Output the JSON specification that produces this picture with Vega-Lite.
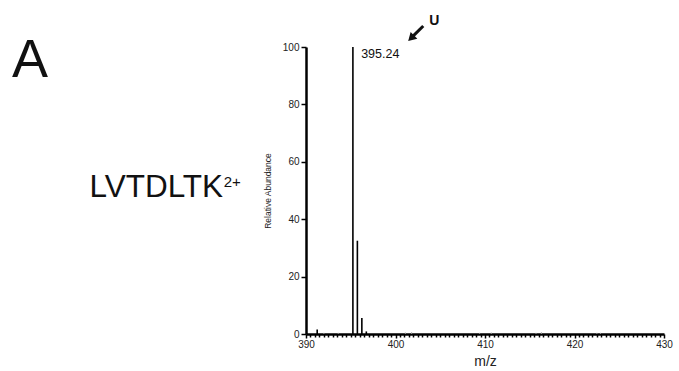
{
  "$schema": "https://vega.github.io/schema/vega-lite/v6.json",
  "width": 358,
  "height": 287,
  "autosize": {"type": "none"},
  "padding": {"left": 306, "top": 47, "right": 15, "bottom": 37},
  "background": "white",
  "config": {
    "view": {"stroke": null},
    "font": "Liberation Sans",
    "axis": {"grid": false, "domainColor": "black", "tickColor": "black", "labelColor": "#222", "titleColor": "#222", "labelFont": "Liberation Sans", "titleFont": "Liberation Sans", "titleFontWeight": "normal"}
  },
  "datasets": {
    "peaks": [
      {"mz": 391.25, "intensity": 1.6, "kind": "main"},
      {"mz": 395.24, "intensity": 100, "kind": "main"},
      {"mz": 395.74, "intensity": 32.5, "kind": "main"},
      {"mz": 396.24, "intensity": 5.6, "kind": "main"},
      {"mz": 396.74, "intensity": 0.9, "kind": "main"},
      {"mz": 392.0, "intensity": 0.4, "kind": "noise"},
      {"mz": 393.6, "intensity": 0.4, "kind": "noise"},
      {"mz": 401.1, "intensity": 0.5, "kind": "noise"},
      {"mz": 401.8, "intensity": 0.6, "kind": "noise"},
      {"mz": 409.4, "intensity": 0.4, "kind": "noise"},
      {"mz": 410.7, "intensity": 0.5, "kind": "noise"},
      {"mz": 415.7, "intensity": 0.4, "kind": "noise"},
      {"mz": 416.3, "intensity": 0.6, "kind": "noise"},
      {"mz": 422.5, "intensity": 0.4, "kind": "noise"},
      {"mz": 422.9, "intensity": 0.4, "kind": "noise"}
    ]
  },
  "layer": [
    {
      "data": {"name": "peaks"},
      "transform": [{"filter": "datum.kind === 'noise'"}],
      "mark": {"type": "rule", "color": "#999", "strokeWidth": 1},
      "encoding": {
        "x": {"field": "mz", "type": "quantitative", "scale": {"domain": [390, 430], "nice": false, "zero": false}},
        "y": {"field": "intensity", "type": "quantitative", "scale": {"domain": [0, 100]}},
        "y2": {"datum": 0}
      }
    },
    {
      "data": {"name": "peaks"},
      "transform": [{"filter": "datum.kind === 'main'"}],
      "mark": {"type": "rule", "color": "black", "strokeWidth": 1.6},
      "encoding": {
        "x": {"field": "mz", "type": "quantitative", "scale": {"domain": [390, 430], "nice": false, "zero": false},
          "axis": {"title": "m/z", "titleFontSize": 14, "titlePadding": 5, "labelFontSize": 10, "labelPadding": 1, "domainWidth": 2.5, "tickWidth": 1.5,
            "tickCount": 80, "labelOverlap": false, "labelFlush": false,
            "labelExpr": "datum.value % 10 === 0 ? format(datum.value, 'd') : ''",
            "tickSize": {"condition": {"test": "datum.value % 10 === 0", "value": 4}, "value": 3}}},
        "y": {"field": "intensity", "type": "quantitative", "scale": {"domain": [0, 100], "nice": false},
          "axis": {"title": "Relative Abundance", "titleFontSize": 8.5, "titlePadding": 10, "labelFontSize": 10, "labelPadding": 2, "domainWidth": 2.5, "tickWidth": 1.5, "tickSize": 5,
            "values": [0,10,20,30,40,50,60,70,80,90,100],
            "labelExpr": "datum.value % 20 === 0 ? format(datum.value, 'd') : ''"}},
        "y2": {"datum": 0}
      }
    },
    {
      "data": {"values": [{"mz": 396.16, "y": 96.2, "t": "395.24"}]},
      "mark": {"type": "text", "align": "left", "baseline": "alphabetic", "fontSize": 12.5, "color": "#111"},
      "encoding": {"x": {"field": "mz", "type": "quantitative"}, "y": {"field": "y", "type": "quantitative"}, "text": {"field": "t"}}
    },
    {
      "data": {"values": [{"mz": 404.33, "y": 107.7, "t": "U"}]},
      "mark": {"type": "text", "align": "center", "baseline": "alphabetic", "fontSize": 14, "fontWeight": "bold", "color": "#111"},
      "encoding": {"x": {"field": "mz", "type": "quantitative"}, "y": {"field": "y", "type": "quantitative"}, "text": {"field": "t"}}
    },
    {
      "data": {"values": [{"x1": 403.1, "y1": 107.3, "x2": 401.9, "y2": 103.6}]},
      "mark": {"type": "rule", "color": "#111", "strokeWidth": 3},
      "encoding": {"x": {"field": "x1", "type": "quantitative"}, "y": {"field": "y1", "type": "quantitative"}, "x2": {"field": "x2"}, "y2": {"field": "y2"}}
    },
    {
      "data": {"values": [{"mz": 401.85, "y": 103.4}]},
      "mark": {"type": "point", "shape": "triangle", "filled": true, "color": "#111", "size": 90, "angle": 225, "opacity": 1},
      "encoding": {"x": {"field": "mz", "type": "quantitative"}, "y": {"field": "y", "type": "quantitative"}}
    },
    {
      "data": {"values": [{"mz": 359.15, "y": 89.5, "t": "A"}]},
      "mark": {"type": "text", "align": "center", "baseline": "alphabetic", "fontSize": 54, "color": "#111"},
      "encoding": {"x": {"field": "mz", "type": "quantitative"}, "y": {"field": "y", "type": "quantitative"}, "text": {"field": "t"}}
    },
    {
      "data": {"values": [{"mz": 365.81, "y": 47.7, "t": "LVTDLTK"}]},
      "mark": {"type": "text", "align": "left", "baseline": "alphabetic", "fontSize": 31.5, "color": "#111"},
      "encoding": {"x": {"field": "mz", "type": "quantitative"}, "y": {"field": "y", "type": "quantitative"}, "text": {"field": "t"}}
    },
    {
      "data": {"values": [{"mz": 380.8, "y": 51.2, "t": "2+"}]},
      "mark": {"type": "text", "align": "left", "baseline": "alphabetic", "fontSize": 15, "color": "#111"},
      "encoding": {"x": {"field": "mz", "type": "quantitative"}, "y": {"field": "y", "type": "quantitative"}, "text": {"field": "t"}}
    }
  ]
}
